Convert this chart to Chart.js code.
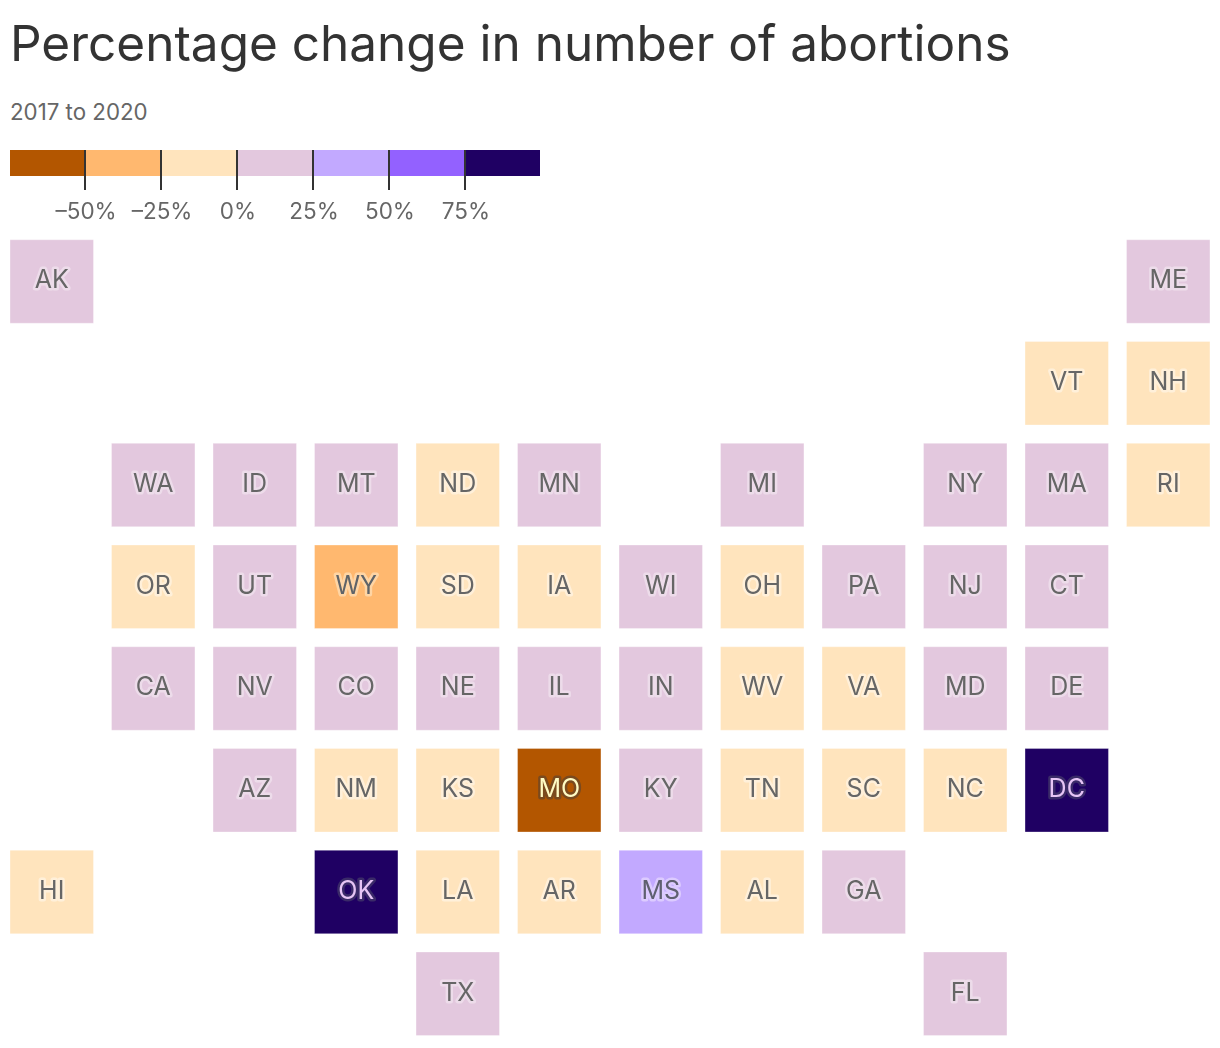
<!DOCTYPE html>
<html>
<head>
<meta charset="utf-8">
<script src="https://cdn.jsdelivr.net/npm/chart.js@4"></script>
<style>
html,body{margin:0;padding:0;background:#fff;width:1220px;height:1048px;overflow:hidden}
body{position:relative;font-family:Inter,"Noto Sans",sans-serif}
#title{position:absolute;left:10px;top:14px;font-size:49.5px;line-height:58px;color:#333;font-weight:400;white-space:nowrap}
#sub{position:absolute;left:10px;top:98px;font-size:22.3px;line-height:28px;color:#666;white-space:nowrap}
#legendWrap{position:absolute;left:0;top:150px;width:1220px;height:80px}
#mapWrap{position:absolute;left:0;top:230px;width:1220px;height:818px}
</style>
</head>
<body>
<div id="title">Percentage change in number of abortions</div>
<div id="sub">2017 to 2020</div>
<div id="legendWrap"><canvas id="legend"></canvas></div>
<div id="mapWrap"><canvas id="map"></canvas></div>
<script>
const titleText = "Percentage change in number of abortions";
const subtitleText = "2017 to 2020";

// Legend classes
const legendEdges = [-74.7, -50, -25, 0, 25, 50, 75, 99.7];
const legendColors = ["#b35600", "#ffb86f", "#ffe4bd", "#e3c8de", "#c2a9ff", "#9361ff", "#1f0063"];
const legendTicks = [-50, -25, 0, 25, 50, 75];

// Tile grid
const states = ["AK","ME","VT","NH","WA","ID","MT","ND","MN","MI","NY","MA","RI","OR","UT","WY","SD","IA","WI","OH","PA","NJ","CT","CA","NV","CO","NE","IL","IN","WV","VA","MD","DE","AZ","NM","KS","MO","KY","TN","SC","NC","DC","HI","OK","LA","AR","MS","AL","GA","TX","FL"];
const cols =   [0,11,10,11,1,2,3,4,5,7,9,10,11,1,2,3,4,5,6,7,8,9,10,1,2,3,4,5,6,7,8,9,10,2,3,4,5,6,7,8,9,10,0,3,4,5,6,7,8,4,9];
const rows =   [0,0,1,1,2,2,2,2,2,2,2,2,2,3,3,3,3,3,3,3,3,3,3,4,4,4,4,4,4,4,4,4,4,5,5,5,5,5,5,5,5,5,6,6,6,6,6,6,6,7,7];
const changes = [12.5,12.5,-12.5,-12.5,12.5,12.5,12.5,-12.5,12.5,12.5,12.5,12.5,-12.5,-12.5,12.5,-37.5,-12.5,-12.5,12.5,-12.5,12.5,12.5,12.5,12.5,12.5,12.5,12.5,12.5,12.5,-12.5,-12.5,12.5,12.5,12.5,-12.5,-12.5,-62.5,12.5,-12.5,-12.5,-12.5,87.5,-12.5,87.5,-12.5,-12.5,37.5,-12.5,12.5,12.5,12.5];

function classOf(v){
  for (let i = 0; i < legendColors.length; i++) if (v < legendEdges[i+1]) return i;
  return legendColors.length - 1;
}
const textColors = ["#fffbc4","#5f6368","#666666","#666666","#5f6070","#666666","#e6c4f5"];
const haloColors = ["#7a4a1e","#ffd5a4","#fff0da","#eddcea","#dccbff","#b9a0ff","#3a2a68"];

Chart.defaults.font.family = 'Inter, "Noto Sans", sans-serif';
Chart.defaults.animation = false;

new Chart(document.getElementById("legend"), {
  type: "bar",
  data: {
    labels: [""],
    datasets: legendColors.map((c, i) => ({
      data: [[legendEdges[i], legendEdges[i+1]]],
      backgroundColor: c,
      borderWidth: 0,
      grouped: false,
      barPercentage: 1,
      categoryPercentage: 1
    }))
  },
  options: {
    indexAxis: "y",
    responsive: true,
    maintainAspectRatio: false,
    layout: { autoPadding: false, padding: { left: 10, right: 680, top: 0, bottom: 0 } },
    plugins: { legend: { display: false }, tooltip: { enabled: false } },
    scales: {
      y: { display: false },
      x: {
        min: legendEdges[0],
        max: legendEdges[legendEdges.length-1],
        position: "bottom",
        afterBuildTicks: s => { s.ticks = legendTicks.map(v => ({ value: v })); },
        border: { display: false },
        grid: { color: "#333333", lineWidth: 2, z: 1, drawTicks: true, tickLength: 14, tickColor: "#333333", drawOnChartArea: true },
        ticks: {
          autoSkip: false,
          maxRotation: 0,
          padding: 9,
          labelOffset: 1,
          color: "#666666",
          font: { size: 22.5 },
          callback: v => (v < 0 ? "\u2013" + Math.abs(v) : v) + "%"
        },
        afterFit: s => { s.height = 54; }
      }
    }
  }
});

const tileLabels = {
  id: "tileLabels",
  afterDatasetsDraw(chart) {
    const { ctx, scales: { x, y } } = chart;
    ctx.save();
    ctx.font = '25px Inter, "Noto Sans", sans-serif';
    ctx.textAlign = "center";
    ctx.textBaseline = "middle";
    ctx.lineJoin = "round";
    states.forEach((s, i) => {
      const k = classOf(changes[i]);
      const px = x.getPixelForValue(cols[i]);
      const py = y.getPixelForValue(rows[i]) - 0.7;
      ctx.lineWidth = 5;
      ctx.strokeStyle = haloColors[k];
      ctx.strokeText(s, px, py);
      ctx.fillStyle = textColors[k];
      ctx.fillText(s, px, py);
    });
    ctx.restore();
  }
};

new Chart(document.getElementById("map"), {
  type: "scatter",
  data: {
    datasets: [{
      data: states.map((s, i) => ({ x: cols[i], y: rows[i] })),
      pointStyle: "rect",
      pointRadius: 59,
      pointHoverRadius: 59,
      borderWidth: 1,
      borderColor: "rgba(255,255,255,0.3)",
      backgroundColor: changes.map(v => legendColors[classOf(v)]),
      clip: false
    }]
  },
  options: {
    responsive: true,
    maintainAspectRatio: false,
    layout: { autoPadding: false, padding: 0 },
    plugins: { legend: { display: false }, tooltip: { enabled: false } },
    scales: {
      x: { display: false, min: -0.5098, max: 11.51 },
      y: { display: false, min: -0.506, max: 7.533, reverse: true }
    }
  },
  plugins: [tileLabels]
});
</script>
</body>
</html>
